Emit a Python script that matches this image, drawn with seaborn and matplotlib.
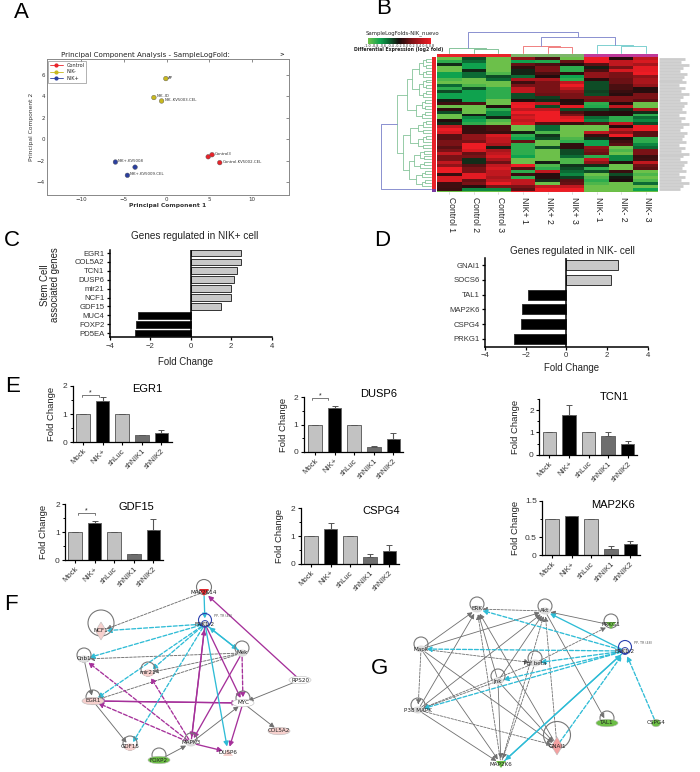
import numpy as np
import pandas as pd
import matplotlib
matplotlib.use("Agg")
import matplotlib.pyplot as plt
from matplotlib.colors import LinearSegmentedColormap
from matplotlib.patches import Ellipse, Polygon, Circle
import seaborn as sns

sns.set_theme(style="white")
plt.rcParams['font.family'] = ['Liberation Sans', 'DejaVu Sans']
W, H = 700, 772

# ---------- DATA ----------
pca_group = ['Control', 'Control', 'Control', 'NIK-', 'NIK-', 'NIK-', 'NIK+', 'NIK+', 'NIK+']
pca_pc1 = [4.85, 5.3, 6.2, -0.1, -1.5, -0.6, -6.0, -4.6, -3.7]
pca_pc2 = [-1.63, -1.44, -2.18, 5.67, 3.9, 3.58, -2.12, -3.36, -2.6]
pca_text = ['', 'Control3', 'Control.KV5002.CEL', 'AP', 'NIK-.ID', 'NIK-.KV5003.CEL',
            'NIK+.KV5008', 'NIK+.KV5009.CEL', '']

hm_columns = ['Control 1', 'Control 2', 'Control 3', 'NIK+ 1', 'NIK+ 2', 'NIK+ 3', 'NIK- 1', 'NIK- 2', 'NIK- 3']
c1 = [-4,-3,-0.5,-4,-4,-2.5,-2.5,-3.5,-4,-1.5,-3,-1,-2.5,-2.5,-0.3,0.6,-4,0.4,-1,-4,-4,0.2,-0.5,
      3,4,3.5,1,1,1.5,1.5,1,1.5,3,1.5,1.5,3,2,4,4,0.5,3.5,3.5,0.6,0.6,0.5]
c2 = [-1,-1.5,-2.5,-2.5,-0.4,-1.5,-1.5,-4,-4,-3.5,-1,-2.5,-2.5,-2.5,-2.5,0.8,-4,-4,-4,-0.3,-2,-2.5,-3,
      0.5,0.5,0.5,2,2,1.5,4,4,3.5,1.2,1.5,-0.5,-0.5,1,1.5,1.5,3.8,3.8,1.2,1.5,0.3,-2]
c3 = [-4,-4,-4,-4,-4,-3.5,-1,-1.5,-4,-4,-3,-3,-3,-3,-4,-4,0.2,-3,-2,-2,-0.4,-3.5,-4,
      0.8,0.8,0.5,3.5,3,3,2.5,-0.3,2.5,3,3.5,2.5,1.3,3,3.5,3,3,2.5,3,4,1.5,-2]
p1 = [2,-2.5,1.2,0.4,-0.4,-0.4,-1.5,2.5,0.6,1.5,3,3,-1,-1,0.2,3.8,4,3,4,3,3.5,3,3.5,
      -4,-4,-0.3,-3,-2.5,1.2,-3,-3,-3,-3,-2.5,-4,-4,4,1,-3,0.5,-3,3,3,1.5,1]
p2 = [0.8,-2.8,0.8,1.5,1.5,0.8,0.2,2.5,1.5,1.5,1.5,1.5,1.3,-0.8,-0.5,3,-1,3,4,4,4,4,1,
      -1.5,-1.5,-3.5,-0.6,-1,-4,-4,-1,-4,-4,-4,-4,-0.3,-3.5,-3,3,0.3,0.3,-0.5,-4,3,4]
p3 = [-4,1.2,0.2,-3,-3,0.3,-2.5,-3,3,4,3,2,1.5,1.5,0.2,0.3,3.8,-1,0.8,1.5,3.5,4,0.5,
      -4,-4,-4,-4,-3.5,-3,0.4,0.4,-1,-1,-1.5,-3.5,-3.5,-0.6,-1,-1.5,-2,-0.8,1,1.2,3,4]
m1 = [4,4,1,-0.3,0.8,2,2,0.3,-1,-1,-1,-0.8,-1,1.5,1.3,-3,-2.8,-1,0.3,0.3,-1.5,-2,1,
      -4,-4,3,0.5,-0.5,-2.5,-2.5,2,1.5,1.2,-3,3,2,-0.5,-3,-1,-4,-3.5,-3,-3.5,-4,-4]
m2 = [0.2,3,3,1.5,3.5,1.5,1.5,1.3,1.3,0.8,0.8,0.5,0.3,1.5,1.5,0.2,3,-0.5,0.2,0.2,-3,-3,3,
      0.2,3,2,4,0.2,0.6,1,-4,-3.5,-4,-2,-2,0.2,-4,-4,0.5,-1,-0.2,0.1,-4,-4,-4]
m3 = [3,3.5,2.5,3.8,3.8,4,2,2.5,2.5,2,0.2,0.3,1.5,1.5,1,-4,-4,2.5,-0.5,-3,-1.5,-2,-1,
      4,4,1,1,-3,-3,-2,-1.5,1.5,1.5,0.5,0.6,3,1.3,1,-4,-3.5,-4,-3.5,-1.5,-4,-2.5]

c_genes = ['EGR1', 'COL5A2', 'TCN1', 'DUSP6', 'mir21', 'NCF1', 'GDF15', 'MUC4', 'FOXP2', 'PD5EA']
c_fold = [2.5, 2.48, 2.28, 2.15, 2.0, 2.0, 1.5, -2.6, -2.7, -2.75]
d_genes = ['GNAI1', 'SOCS6', 'TAL1', 'MAP2K6', 'CSPG4', 'PRKG1']
d_fold = [2.55, 2.2, -1.9, -2.17, -2.25, -2.55]

conditions = ['Mock', 'NIK+', 'shLuc', 'shNIK1', 'shNIK2']
egr1_val, egr1_err = [1, 1.45, 1, 0.25, 0.32], [0, 0.17, 0, 0.01, 0.12]
dusp6_val, dusp6_err = [1, 1.6, 1, 0.2, 0.47], [0, 0.07, 0, 0.01, 0.22]
tcn1_val, tcn1_err = [1, 1.8, 1, 0.83, 0.5], [0, 0.42, 0, 0.17, 0.1]
gdf15_val, gdf15_err = [1, 1.35, 1, 0.22, 1.08], [0, 0.05, 0, 0.01, 0.4]
cspg4_val, cspg4_err = [1, 1.27, 1, 0.25, 0.45], [0, 0.2, 0, 0.12, 0.25]
map2k6_val, map2k6_err = [1, 1.08, 1, 0.18, 0.3], [0, 0.01, 0, 0.08, 0.1]

# network nodes: name -> (x, y, kind, colour)
f_nodes = {
    'MAP2K14': (204, 592, 'down', '#e0282e'), 'ERK1/2': (205, 624, 'hub', 'white'),
    'NCF1': (101, 631, 'diamond', '#f6d0cd'), 'Cnb1': (84, 659, 'plain', '#dddddd'),
    'mir21': (148, 673, 'plain', '#f6d0cd'), 'Mek': (242, 653, 'plain', '#dddddd'),
    'RPS20': (300, 680, 'ellipse', 'white'), 'EGR1': (93, 701, 'ellipse', '#f6d0cd'),
    'MYC': (243, 703, 'ellipse', 'white'), 'GDF15': (130, 747, 'plain', '#f6d0cd'),
    'FOXP2': (159, 760, 'ellipse', '#6cbe45'), 'MAPK3': (191, 743, 'plain', '#dddddd'),
    'DUSP6': (228, 752, 'up', '#f6d0cd'), 'COL5A2': (279, 731, 'ellipse', '#f6d0cd'),
}
f_blue = [('MAP2K14', 'ERK1/2', 0), ('ERK1/2', 'NCF1', 1), ('ERK1/2', 'Cnb1', 1), ('ERK1/2', 'mir21', 1),
          ('ERK1/2', 'EGR1', 1), ('ERK1/2', 'GDF15', 1), ('ERK1/2', 'DUSP6', 0), ('ERK1/2', 'Mek', 0),
          ('Mek', 'ERK1/2', 0)]
f_purple = [('RPS20', 'MAP2K14', 0), ('MAPK3', 'ERK1/2', 0), ('ERK1/2', 'MAPK3', 0), ('ERK1/2', 'MYC', 0),
            ('Mek', 'MAPK3', 0), ('Mek', 'MYC', 1), ('EGR1', 'MYC', 0), ('MYC', 'EGR1', 0),
            ('MAPK3', 'Cnb1', 1), ('MAPK3', 'EGR1', 1), ('MAPK3', 'mir21', 1), ('MAPK3', 'DUSP6', 0),
            ('MYC', 'DUSP6', 0)]
f_gray = [('MAP2K14', 'NCF1', 1), ('Mek', 'Cnb1', 1), ('Mek', 'mir21', 1), ('Mek', 'EGR1', 1),
          ('Cnb1', 'EGR1', 0), ('EGR1', 'GDF15', 0), ('RPS20', 'MYC', 0), ('MAPK3', 'MYC', 0),
          ('MYC', 'COL5A2', 0), ('FOXP2', 'MAPK3', 0)]
f_loops = {'MAP2K14': (204, 587, 7.5), 'NCF1': (101, 623, 13), 'Cnb1': (84, 655, 7), 'mir21': (148, 669, 7),
           'Mek': (242, 648, 7), 'EGR1': (93, 697, 7), 'MYC': (243, 698, 7), 'GDF15': (130, 743, 7),
           'FOXP2': (159, 755, 7), 'MAPK3': (191, 739, 6)}

g_nodes = {
    'ERK': (477, 609, 'plain', '#dddddd'), 'Akt': (545, 611, 'plain', '#dddddd'),
    'PRKG1': (611, 625, 'down', '#6cbe45'), 'Mapk': (421, 649, 'plain', '#dddddd'),
    'ERK1/2': (625, 651, 'hub', 'white'), 'Tgf beta': (535, 663, 'plain', '#dddddd'),
    'Jnk': (498, 681, 'plain', '#dddddd'), 'P38 MAPK': (418, 710, 'plain', '#dddddd'),
    'TAL1': (607, 723, 'ellipse', '#6cbe45'), 'CSPG4': (656, 723, 'small', '#6cbe45'),
    'GNAI1': (557, 746, 'diamond', '#f4a0a0'), 'MAP2K6': (501, 764, 'down', '#6cbe45'),
}
g_blue = [('ERK1/2', 'ERK', 1), ('ERK1/2', 'Akt', 0), ('ERK1/2', 'Mapk', 1), ('ERK1/2', 'Tgf beta', 1),
          ('ERK1/2', 'Jnk', 1), ('ERK1/2', 'P38 MAPK', 1), ('MAP2K6', 'ERK1/2', 0), ('ERK1/2', 'MAP2K6', 0),
          ('GNAI1', 'ERK1/2', 1), ('CSPG4', 'ERK1/2', 1)]
g_gray = [('Akt', 'ERK', 1), ('Mapk', 'ERK', 0), ('P38 MAPK', 'ERK', 0), ('Jnk', 'ERK', 0), ('GNAI1', 'ERK', 0),
          ('MAP2K6', 'ERK', 1), ('Mapk', 'Akt', 0), ('Jnk', 'Akt', 0), ('P38 MAPK', 'Akt', 0), ('Akt', 'TAL1', 0),
          ('PRKG1', 'Akt', 0), ('MAP2K6', 'Akt', 1), ('GNAI1', 'Akt', 1), ('Mapk', 'P38 MAPK', 1),
          ('Mapk', 'Tgf beta', 1), ('Mapk', 'GNAI1', 0), ('Tgf beta', 'P38 MAPK', 1), ('Tgf beta', 'PRKG1', 1),
          ('Jnk', 'P38 MAPK', 1), ('Jnk', 'MAP2K6', 0), ('Jnk', 'GNAI1', 0), ('P38 MAPK', 'MAP2K6', 0),
          ('P38 MAPK', 'GNAI1', 1), ('Tgf beta', 'MAP2K6', 1), ('Mapk', 'MAP2K6', 0)]
g_loops = {'ERK': (477, 604, 7), 'Akt': (545, 606, 7), 'PRKG1': (611, 621, 7), 'Mapk': (421, 644, 7),
           'Tgf beta': (535, 658, 7), 'Jnk': (498, 676, 7), 'P38 MAPK': (418, 705, 7), 'TAL1': (607, 718, 7),
           'GNAI1': (557, 735, 13.5)}


# ---------- HELPERS ----------
fig = plt.figure(figsize=(W / 100, H / 100), dpi=100, facecolor='white')

def ax_px(l, t, r, b, **kw):
    return fig.add_axes([l / W, 1 - b / H, (r - l) / W, (b - t) / H], **kw)

ov = ax_px(0, 0, W, H, zorder=5)
ov.set_xlim(0, W); ov.set_ylim(H, 0); ov.axis('off'); ov.patch.set_alpha(0)

def txt(x, y, s, size=6, **kw):
    kw.setdefault('ha', 'center'); kw.setdefault('va', 'center')
    kw.setdefault('color', '#222222')
    return ov.text(x, y, s, fontsize=size, **kw)

for s, x, y in [('A', 21, 12), ('B', 384, 9), ('C', 12, 240), ('D', 382, 240),
                ('E', 13, 386), ('F', 11, 605), ('G', 379, 669)]:
    txt(x, y, s, 16, color='black')

# ---------- A: PCA ----------
ax = ax_px(47, 59, 289, 195)
pca = pd.DataFrame({'pc1': pca_pc1, 'pc2': pca_pc2, 'group': pca_group})
pal = {'Control': '#e8232a', 'NIK-': '#c8b81e', 'NIK+': '#2b3f9e'}
sns.scatterplot(data=pca, x='pc1', y='pc2', hue='group', palette=pal, s=11, edgecolor='#555555', linewidth=0.3,
                ax=ax, legend=False)
ax.set_xlim(-14, 14.3); ax.set_ylim(-5.2, 7.5)
ax.set_xticks([-10, -5, 0, 5, 10]); ax.set_yticks([-4, -2, 0, 2, 4, 6])
ax.tick_params(labelsize=4, length=2, width=0.4, direction='in', top=True, right=True, pad=1.5, colors='#333333')
for lab in ax.get_xticklabels() + ax.get_yticklabels():
    lab.set_family('DejaVu Sans')
ax.set_xlabel('Principal Component 1', fontsize=4.3, family='DejaVu Sans', labelpad=1, fontweight='bold', color='#333333')
ax.set_ylabel('Principal Component 2', fontsize=4.3, family='DejaVu Sans', labelpad=2, color='#333333')
for sp in ax.spines.values():
    sp.set_linewidth(0.7); sp.set_color('#888888')
for x_, y_, t_ in zip(pca_pc1, pca_pc2, pca_text):
    if t_:
        ax.text(x_ + 0.3, y_ + 0.1, t_, fontsize=2.8, family='DejaVu Sans', color='#333333', va='center')
handles = [plt.Line2D([], [], color=pal[k], marker='o', ms=2, lw=0.6, label=k) for k in pal]
leg = ax.legend(handles=handles, loc='upper left', fontsize=3.6, frameon=True, borderpad=0.3, labelspacing=0.35,
                handlelength=2.6, fancybox=False, edgecolor='#777777', bbox_to_anchor=(0.005, 0.985), borderaxespad=0)
leg.get_frame().set_linewidth(0.5)
for t_ in leg.get_texts():
    t_.set_family('DejaVu Sans')
txt(145, 55, 'Principal Component Analysis - SampleLogFold:', 5.1, family='DejaVu Sans')
txt(282, 55, '>', 4, family='DejaVu Sans', fontweight='bold')

# ---------- B: heat map ----------
cmap = LinearSegmentedColormap.from_list('gbr', [
    (0.0, '#6cc04a'), (0.19, '#0ea24e'), (0.35, '#0c5a2c'), (0.5, '#170c0c'),
    (0.69, '#7a1216'), (1.0, '#ed1c24')])
hm = pd.DataFrame(dict(zip(hm_columns, [c1, c2, c3, p1, p2, p3, m1, m2, m3])))
L, R, T, B = 437, 658, 57.3, 190.5
ax = ax_px(L, T, R, B)
sns.heatmap(hm, cmap=cmap, vmin=-4, vmax=4, cbar=False, xticklabels=False, yticklabels=False, ax=ax)
ax.set_xlabel(''); ax.set_ylabel('')
cw = (R - L) / 9
top_bar = ['#e8232a', '#7db56a', '#c0399a']
bot_bar = ['#6cbe45', '#e8232a', '#6cbe45']
for i in range(3):
    ov.fill_between([L + 3 * i * cw, L + 3 * (i + 1) * cw], 54, 56.6, color=top_bar[i], lw=0)
    ov.fill_between([L + 3 * i * cw, L + 3 * (i + 1) * cw], 190.5, 192, color=bot_bar[i], lw=0)
ov.fill_between([432, 436], 57, 189, color='#e8232a', lw=0)
ov.fill_between([432, 436], 189, 191.5, color='#7a3aa0', lw=0)
for i, name in enumerate(hm_columns):
    txt(L + (i + 0.5) * cw + 2, 197, name, 6.2, rotation=270, va='top')
    ov.plot([L + (i + 0.5) * cw] * 2, [192, 194], color='#cccccc', lw=0.5)

# row-label strip (unreadably small in the source)
label_len = [26, 22, 30, 24, 21, 28, 25, 23, 27, 20]
rh = (B - T) / len(hm)
for i in range(len(hm)):
    ov.plot([659, 659 + label_len[i % 10]], [T + (i + 0.5) * rh] * 2, color='#cccccc', lw=2.0, solid_capstyle='butt')

# top dendrogram: (height, left, right), leaves are column indices
def top_tree(node, col):
    if isinstance(node, int):
        return L + (node + 0.5) * cw, 52.7
    h, a, b, c = node
    xa, ya = top_tree(a, c); xb, yb = top_tree(b, c)
    ov.plot([xa, xa, xb, xb], [ya, h, h, yb], color=c, lw=0.7)
    return (xa + xb) / 2, h

t_green = (48.3, 0, (49.3, 1, 2, '#86c49a'), '#86c49a')
t_red = (46.3, 3, (47.3, 4, 5, '#f08080'), '#f08080')
t_cyan = (45, 6, (46, 7, 8, '#7fd0d0'), '#7fd0d0')
top_tree((32.3, t_green, (37.3, t_red, t_cyan, '#8a90d0'), '#8a90d0'), None)

# left dendrogram
def sub(a, b, x):
    if a == b:
        return a
    m = (a + b) // 2
    nx = x + (430.5 - x) * 0.38
    return (x, sub(a, m, nx), sub(m + 1, b, nx))

def left_tree(node, c):
    if isinstance(node, int):
        return 430.5, T + (node + 0.5) * rh
    h, a, b = node
    xa, ya = left_tree(a, c); xb, yb = left_tree(b, c)
    ov.plot([xa, h, h, xb], [ya, ya, yb, yb], color=c, lw=0.6)
    return h, (ya + yb) / 2

x1, y1 = left_tree((397, (407, sub(0, 13, 412), sub(14, 20, 416)),
                    (403, sub(21, 30, 410), (409, sub(31, 37, 414), sub(38, 43, 416)))), '#86c49a')
ov.plot([x1, 381, 381, 430.5], [y1, y1, T + 44.5 * rh, T + 44.5 * rh], color='#8a90d0', lw=0.7)

# colour key
txt(402, 33, 'SampleLogFolds-NIK_nuevo', 3.9, family='DejaVu Sans')
ck = ax_px(368, 37.7, 430.7, 43.7)
sns.heatmap(pd.DataFrame([np.linspace(-4, 4, 60)]), cmap=cmap, vmin=-4, vmax=4, cbar=False,
            xticklabels=False, yticklabels=False, ax=ck)
txt(399, 46.2, '-1.0 -0.8 -0.6 -0.4 -0.2 0.0 0.2 0.4 0.6 0.8', 2.4, family='DejaVu Sans')
txt(399, 50, 'Differential Expression (log2 fold)', 3.3, family='DejaVu Sans', fontweight='bold')

# ---------- C, D ----------
def hbars(box, genes, vals, centre0, pitch, h):
    l, t, r, b = box
    ax = ax_px(l, t, r, b)
    pal_ = ['#c9c9c9' if v > 0 else 'black' for v in vals]
    sns.barplot(x=vals, y=genes, hue=genes, palette=pal_, width=h, edgecolor='#333333', linewidth=0.7,
                orient='h', legend=False, ax=ax)
    ax.set_xlim(-4, 4)
    ax.set_ylim((b - centre0) / pitch, (t - centre0) / pitch)
    ax.axvline(0, color='black', lw=1.1)
    ax.set_xticks([-4, -2, 0, 2, 4])
    sns.despine(ax=ax)
    ax.spines['left'].set_linewidth(1.1); ax.spines['left'].set_color('black')
    ax.spines['bottom'].set_linewidth(1.1); ax.spines['bottom'].set_color('black')
    ax.tick_params(axis='both', bottom=True, left=True, length=2.5, width=0.9, labelsize=5.6, pad=1.5,
                   color='black', labelcolor='#333333')
    ax.set_xlabel(''); ax.set_ylabel('')
    return ax

hbars((110, 249.5, 271.7, 337), c_genes, c_fold, 253, 8.9, 0.75)
txt(195, 236, 'Genes regulated in NIK+ cell', 7.2)
txt(186, 362, 'Fold Change', 6.9)
txt(50, 285, 'Stem Cell\nassociated genes', 6.9, rotation=90, linespacing=1.0)

hbars((485, 258, 647.7, 346.7), d_genes, d_fold, 265.3, 14.7, 0.68)
txt(572.7, 251, 'Genes regulated in NIK- cell', 7.2)
txt(571.7, 368, 'Fold Change', 6.9)

# ---------- E ----------
bar_pal = ['#c2c2c2', 'black', '#c2c2c2', '#6e6e6e', 'black']

def ebars(vals, errs, title, tx, ty, l, top, r, bottom, c0, ymax, major, minor=None, lab=None, ylx=None, bracket=None):
    pitch = 19.6
    ax = ax_px(l, top, r, bottom)
    sns.barplot(x=conditions, y=vals, hue=conditions, palette=bar_pal, width=0.69, edgecolor='#666666',
                linewidth=0.7, legend=False, ax=ax)
    ax.errorbar(range(5), vals, yerr=[[0] * 5, errs], fmt='none', ecolor='#555555', elinewidth=0.8, capsize=2, capthick=0.7)
    ax.set_xlim((l - c0) / pitch, (r - c0) / pitch)
    ax.set_ylim(0, ymax)
    ax.set_yticks(major)
    if lab:
        ax.set_yticklabels(lab)
    if minor:
        ax.set_yticks(minor, minor=True)
    sns.despine(ax=ax)
    for s_ in ['left', 'bottom']:
        ax.spines[s_].set_linewidth(0.9); ax.spines[s_].set_color('black')
    ax.tick_params(axis='both', which='major', bottom=True, left=True, length=2.5, width=0.8, labelsize=6, pad=1.5,
                   color='black', labelcolor='#333333')
    ax.tick_params(axis='y', which='minor', left=True, length=1.5, width=0.7, color='black')
    ax.set_xticks(range(5)); ax.set_xticklabels(conditions, rotation=45, ha='right', rotation_mode='anchor', fontsize=5.6)
    ax.set_ylabel('')
    txt(tx, ty, title, 8, color='black')
    txt(ylx, (top + bottom) / 2, 'Fold Change', 6.8, rotation=90)
    if bracket:
        x0, x1_, y_ = bracket
        ov.plot([x0, x0, x1_, x1_], [y_ + 2, y_, y_, y_ + 2], color='#444444', lw=0.5)
        txt((x0 + x1_) / 2, y_ - 2, '*', 5)

ebars(egr1_val, egr1_err, 'EGR1', 147.7, 389, 72.7, 386, 172, 442.3, 83, 2, [0, 1, 2], [0.5, 1.5], ylx=51, bracket=(82, 99, 395))
ebars(dusp6_val, dusp6_err, 'DUSP6', 379, 394, 304, 397.3, 402.7, 452, 315, 2, [0, 1, 2], [0.5, 1.5], ylx=284, bracket=(312, 328, 398))
ebars(tcn1_val, tcn1_err, 'TCN1', 614, 397, 539.3, 399, 637.3, 454.7, 549.3, 2.5, [0, 1, 2], [0.5, 1.5, 2.5], ylx=515)
ebars(gdf15_val, gdf15_err, 'GDF15', 136.7, 506.7, 65.3, 504.3, 162.7, 560.3, 75, 2, [0, 1, 2], [0.5, 1.5], ylx=43, bracket=(78, 95, 513))
ebars(cspg4_val, cspg4_err, 'CSPG4', 380.7, 511.3, 301, 508.3, 399.3, 564, 311, 2, [0, 1, 2], [0.5, 1.5], ylx=280)
ebars(map2k6_val, map2k6_err, 'MAP2K6', 613.3, 505, 542.3, 500.7, 640, 555.3, 552, 1.5, [0, 0.5, 1.5], [1.0],
      lab=['0', '0.5', '1.5'], ylx=515)

# ---------- F, G networks ----------
BLUE, PURPLE, GRAY = '#2fbcd6', '#a5309a', '#6f6f6f'

def edges(nodes, lst, color, lw=0.7):
    for a, b, dash in lst:
        xa, ya = nodes[a][:2]; xb, yb = nodes[b][:2]
        ov.annotate('', xy=(xb, yb), xytext=(xa, ya), xycoords='data', textcoords='data',
                    arrowprops=dict(arrowstyle='-|>,head_length=0.35,head_width=0.18', color=color, lw=lw,
                                    linestyle=(0, (3, 1.5)) if dash else '-', shrinkA=3, shrinkB=4,
                                    mutation_scale=8))

def draw_nodes(nodes, loops):
    for c in loops.values():
        ov.add_patch(Circle(c[:2], c[2], fill=False, ec='#777777', lw=0.8, zorder=3))
    for name, (x, y, kind, col) in nodes.items():
        if kind == 'ellipse':
            ov.add_patch(Ellipse((x, y), 22, 7.5, fc=col, ec='#bbbbbb', lw=0.4, zorder=4))
        elif kind == 'small':
            ov.add_patch(Ellipse((x, y), 9, 7.5, fc=col, ec='#bbbbbb', lw=0.4, zorder=4))
        elif kind == 'diamond':
            ov.add_patch(Polygon([(x, y - 9), (x + 5.5, y), (x, y + 9), (x - 5.5, y)], fc=col, ec='#bbbbbb', lw=0.4, zorder=4))
        elif kind == 'down':
            ov.add_patch(Polygon([(x - 5, y - 3), (x + 5, y - 3), (x, y + 4)], fc=col, ec='none', zorder=4))
        elif kind == 'up':
            ov.add_patch(Polygon([(x - 5, y + 4), (x + 5, y + 4), (x, y - 3)], fc=col, ec='none', zorder=4))
        elif kind == 'hub':
            ov.add_patch(Circle((x, y), 3.5, fc='#dddddd', ec='#2a3fae', lw=0.6, zorder=4))
            ov.add_patch(Circle((x, y - 4), 6.5, fill=False, ec='#2a3fae', lw=0.8, zorder=4))
            txt(x + 18, y - 8, 'PP, TR (48)', 2.3, family='DejaVu Sans', color='#555555', zorder=6)
        else:
            ov.add_patch(Ellipse((x, y), 11, 7, fc=col, ec='none', zorder=4))
        txt(x, y, name, 4.1, family='DejaVu Sans', color='#222222', zorder=6)

edges(f_nodes, f_gray, GRAY, 0.65)
edges(f_nodes, f_purple, PURPLE, 0.95)
edges(f_nodes, f_blue, BLUE, 0.95)
draw_nodes(f_nodes, f_loops)

edges(g_nodes, g_gray, GRAY, 0.6)
edges(g_nodes, g_blue, BLUE, 0.95)
draw_nodes(g_nodes, g_loops)

fig.savefig('out.png', dpi=100)
